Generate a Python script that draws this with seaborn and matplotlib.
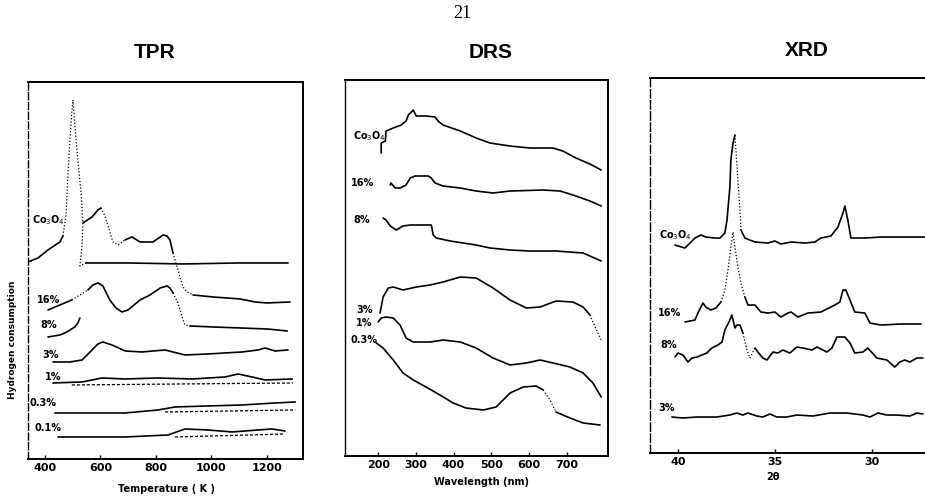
import matplotlib
matplotlib.use("Agg")
import matplotlib.pyplot as plt
import numpy as np
import seaborn as sns

sns.set_style("ticks")
plt.rcParams["font.family"] = ["DejaVu Sans"]
plt.rcParams["text.color"] = "black"
plt.rcParams["xtick.color"] = "black"
plt.rcParams["axes.labelcolor"] = "black"

# ---- TPR: temperature (K) vs hydrogen consumption (arb. units) ----
tpr_co_t = [339, 375, 411, 454, 465, 476, 483, 490, 497, 501, 508, 516, 523,
            530, 537, 534, 526, 548, 700, 900, 1100, 1277]
tpr_co_h = [197, 201, 209, 217, 223, 244, 284, 319, 347, 359, 334, 307, 287,
            267, 236, 214, 193, 196, 196, 195, 196, 196]
tpr_hump_t = [537, 570, 591, 602, 613, 627, 645, 664, 689, 714, 743, 790, 816,
              826, 840, 851, 862, 877, 887, 898, 913, 934, 1006, 1104, 1158,
              1201, 1284]
tpr_hump_h = [236, 242, 249, 251, 245, 234, 217, 214, 219, 222, 217, 217, 222,
              224, 223, 219, 206, 192, 182, 172, 167, 164, 162, 160, 157, 156,
              157]
tpr_16_t = [411, 454, 497, 555, 573, 591, 609, 634, 656, 678, 700, 743, 779,
            816, 840, 851, 862, 880, 895, 905, 923, 1006, 1104, 1201, 1274]
tpr_16_h = [149, 154, 159, 169, 174, 176, 173, 159, 151, 147, 149, 159, 164,
            171, 173, 171, 166, 156, 142, 134, 133, 132, 131, 130, 128]
tpr_8_t = [411, 454, 479, 508, 519, 526]
tpr_8_h = [122, 124, 127, 132, 136, 141]
tpr_3_t = [429, 490, 534, 570, 591, 609, 642, 689, 750, 833, 905, 988, 1111,
           1169, 1194, 1230, 1277]
tpr_3_h = [97, 97, 99, 109, 115, 117, 114, 108, 107, 109, 104, 105, 107, 109,
           111, 108, 109]
tpr_1_t = [429, 534, 606, 689, 808, 931, 1050, 1097, 1147, 1194, 1292]
tpr_1_h = [76, 77, 81, 80, 81, 80, 82, 85, 82, 79, 80]
tpr_1_base_t = [497, 887, 1295]
tpr_1_base_h = [74, 75, 76]
tpr_03_t = [436, 689, 808, 869, 988, 1111, 1230, 1303]
tpr_03_h = [46, 46, 49, 52, 53, 54, 56, 57]
tpr_03_base_t = [833, 1068, 1303]
tpr_03_base_h = [47, 48, 49]
tpr_01_t = [447, 689, 844, 905, 988, 1075, 1169, 1219, 1266]
tpr_01_h = [22, 22, 24, 30, 29, 27, 29, 30, 28]
tpr_01_base_t = [869, 1266]
tpr_01_base_h = [22, 25]
tpr_labels = ["Co$_3$O$_4$", "16%", "8%", "3%", "1%", "0.3%", "0.1%"]
tpr_label_t = [353, 371, 382, 389, 400, 346, 364]
tpr_label_h = [239, 159, 134, 104, 82, 56, 31]
tpr_ticks = [400, 600, 800, 1000, 1200]

# ---- DRS: wavelength (nm) vs reflectance (arb. units) ----
drs_co_w = [208, 208, 219, 221, 240, 261, 274, 280, 293, 301, 327, 351, 359,
            372, 418, 460, 497, 550, 603, 664, 690, 725, 762, 792]
drs_co_r = [303, 313, 315, 325, 328, 331, 335, 341, 346, 340, 340, 339, 335,
            331, 325, 318, 313, 310, 308, 308, 305, 298, 292, 286]
drs_16_w = [232, 234, 245, 258, 274, 285, 298, 333, 341, 351, 372, 418, 460,
            505, 550, 638, 683, 725, 762, 792]
drs_16_r = [271, 273, 268, 268, 271, 278, 280, 280, 278, 273, 270, 268, 265,
            263, 265, 266, 265, 260, 255, 250]
drs_8_w = [213, 221, 232, 248, 266, 285, 319, 341, 346, 354, 391, 460, 497,
           550, 603, 672, 744, 762, 792]
drs_8_r = [238, 236, 230, 226, 230, 231, 231, 231, 221, 218, 215, 211, 208,
           206, 205, 205, 203, 200, 195]
drs_3_w = [205, 213, 227, 240, 266, 301, 338, 372, 418, 460, 505, 550, 593,
           630, 672, 717, 744, 762, 776, 792]
drs_3_r = [143, 159, 168, 169, 166, 169, 171, 174, 179, 178, 168, 156, 148,
           149, 155, 154, 149, 141, 129, 116]
drs_1_w = [200, 208, 221, 240, 258, 274, 293, 338, 372, 418, 460, 505, 550,
           593, 630, 664, 709, 744, 770, 792]
drs_1_r = [134, 138, 139, 138, 131, 118, 114, 114, 116, 114, 108, 98, 91, 93,
           96, 93, 89, 83, 73, 59]
drs_03_w = [195, 213, 240, 266, 293, 327, 364, 399, 433, 479, 513, 550, 585,
            619, 638, 656, 672, 709, 744, 789]
drs_03_r = [113, 108, 96, 83, 76, 69, 61, 53, 48, 46, 49, 63, 69, 70, 66, 56,
            44, 38, 33, 31]
drs_labels = ["Co$_3$O$_4$", "16%", "8%", "3%", "1%", "0.3%"]
drs_label_w = [133, 128, 134, 142, 142, 126]
drs_label_r = [320, 273, 236, 146, 133, 116]
drs_ticks = [200, 300, 400, 500, 600, 700]

# ---- XRD: 2theta (deg) vs intensity (arb. units) ----
xrd_co_a = [40.15, 39.64, 39.48, 39.12, 38.81, 38.56, 38.09, 37.83, 37.58,
            37.47, 37.32, 37.27, 37.16, 37.06, 37.01, 36.91, 36.80, 36.75,
            36.55, 36.03, 35.36, 35.00, 34.69, 34.17, 33.45, 32.94, 32.63,
            32.11, 31.75, 31.49, 31.39, 31.24, 31.08, 30.36, 29.54, 28.66,
            27.78, 27.27]
xrd_co_i = [208, 205, 208, 215, 218, 216, 215, 215, 220, 233, 266, 293, 310,
            318, 303, 273, 243, 223, 215, 211, 210, 212, 209, 211, 210, 211,
            215, 217, 226, 240, 247, 233, 215, 215, 216, 216, 216, 216]
xrd_16_a = [39.64, 39.12, 38.97, 38.71, 38.56, 38.30, 38.04, 37.78, 37.58,
            37.42, 37.27, 37.16, 37.06, 36.91, 36.75, 36.55, 36.39, 36.03,
            35.72, 35.36, 35.00, 34.69, 34.33, 34.17, 33.81, 33.30, 32.63,
            31.91, 31.65, 31.49, 31.34, 31.13, 30.88, 30.36, 30.10, 29.54,
            28.50, 27.47]
xrd_16_i = [131, 133, 140, 150, 146, 143, 145, 151, 163, 183, 206, 221, 206,
            186, 170, 156, 148, 148, 141, 140, 141, 136, 140, 141, 136, 140,
            141, 148, 151, 163, 163, 153, 141, 140, 130, 128, 129, 129]
xrd_8_a = [40.15, 40.00, 39.74, 39.48, 39.28, 39.02, 38.51, 38.25, 37.94,
           37.73, 37.58, 37.32, 37.22, 37.06, 36.96, 36.80, 36.65, 36.44,
           36.29, 36.03, 35.88, 35.62, 35.41, 35.10, 34.85, 34.59, 34.23,
           33.87, 33.56, 33.09, 32.83, 32.32, 32.06, 31.80, 31.39, 31.13,
           30.88, 30.46, 30.21, 29.74, 29.23, 28.81, 28.56, 28.30, 28.04,
           27.68, 27.37]
xrd_8_i = [96, 100, 98, 91, 95, 96, 100, 105, 108, 111, 123, 133, 138, 125,
           128, 128, 120, 103, 95, 105, 101, 95, 93, 101, 100, 103, 100, 106,
           105, 103, 106, 101, 105, 116, 116, 110, 100, 101, 105, 95, 93, 86,
           91, 93, 91, 95, 95]
xrd_3_a = [40.31, 39.74, 39.02, 37.99, 37.32, 36.96, 36.65, 36.39, 35.93,
           35.62, 35.26, 34.90, 34.38, 33.87, 33.04, 32.16, 31.29, 30.46,
           30.10, 29.69, 29.23, 28.71, 28.04, 27.68, 27.37]
xrd_3_i = [36, 35, 36, 36, 38, 40, 38, 40, 37, 36, 39, 36, 36, 38, 37, 40, 40,
           38, 36, 40, 38, 38, 37, 40, 39]
xrd_labels = ["Co$_3$O$_4$", "16%", "8%", "3%"]
xrd_label_a = [41.0, 41.03, 40.88, 41.03]
xrd_label_i = [218, 140, 108, 45]
xrd_ticks = [40, 35, 30]

DOT = (0, (1, 1.6))
DASH = (0, (2.5, 1.5))


def trace(ax, x, y, dotted=(), ls="-", lw=1.2):
    """Draw one pen trace; index ranges in `dotted` are drawn as dots."""
    x = np.asarray(x, dtype=float)
    y = np.asarray(y, dtype=float)
    cuts = sorted(set([0, len(x) - 1] + [i for r in dotted for i in r]))
    for a, b in zip(cuts[:-1], cuts[1:]):
        is_dot = any(a >= r[0] and b <= r[1] for r in dotted)
        sns.lineplot(x=x[a:b + 1], y=y[a:b + 1], ax=ax, sort=False,
                     estimator=None, color="black",
                     lw=0.9 if is_dot else lw,
                     linestyle=DOT if is_dot else ls)


def frame(ax, xlim, ylim, ticks, left_ls="-"):
    ax.set_xlim(*xlim)
    ax.set_ylim(*ylim)
    ax.set_yticks([])
    ax.set_xticks(ticks)
    ax.set_xticklabels([str(t) for t in ticks], fontweight="bold")
    ax.tick_params(axis="x", direction="in", length=3, width=1,
                   labelsize=8, pad=3, colors="black")
    ax.set_xlabel("")
    ax.set_ylabel("")
    for side, sp in ax.spines.items():
        sp.set_visible(True)
        sp.set_linewidth(1.4)
        sp.set_color("black")
    ax.spines["left"].set_linestyle(left_ls)
    ax.spines["left"].set_linewidth(1.0)


def put_labels(ax, xs, ys, texts):
    for x, y, t in zip(xs, ys, texts):
        ax.text(x, y, t, fontsize=7, fontweight="bold", ha="left",
                va="center")


fig = plt.figure(figsize=(9.25, 4.97), dpi=100)
ax_tpr = fig.add_axes([0.0303, 0.0765, 0.2973, 0.7586])
ax_drs = fig.add_axes([0.373, 0.0825, 0.2843, 0.7565])
ax_xrd = fig.add_axes([0.7027, 0.0885, 0.308, 0.7545])

# TPR
trace(ax_tpr, tpr_co_t, tpr_co_h, dotted=[(4, 17)])
trace(ax_tpr, tpr_hump_t, tpr_hump_h, dotted=[(3, 8), (16, 21)])
trace(ax_tpr, tpr_16_t, tpr_16_h, dotted=[(2, 3), (16, 20)])
trace(ax_tpr, tpr_8_t, tpr_8_h)
trace(ax_tpr, tpr_3_t, tpr_3_h)
trace(ax_tpr, tpr_1_t, tpr_1_h)
trace(ax_tpr, tpr_1_base_t, tpr_1_base_h, ls=DASH, lw=0.9)
trace(ax_tpr, tpr_03_t, tpr_03_h)
trace(ax_tpr, tpr_03_base_t, tpr_03_base_h, ls=DASH, lw=0.9)
trace(ax_tpr, tpr_01_t, tpr_01_h)
trace(ax_tpr, tpr_01_base_t, tpr_01_base_h, ls=DASH, lw=0.9)
put_labels(ax_tpr, tpr_label_t, tpr_label_h, tpr_labels)
frame(ax_tpr, (339, 1331), (0, 377), tpr_ticks, left_ls=(0, (5, 2)))

# DRS
trace(ax_drs, drs_co_w, drs_co_r)
trace(ax_drs, drs_16_w, drs_16_r)
trace(ax_drs, drs_8_w, drs_8_r)
trace(ax_drs, drs_3_w, drs_3_r, dotted=[(17, 19)])
trace(ax_drs, drs_1_w, drs_1_r)
trace(ax_drs, drs_03_w, drs_03_r, dotted=[(14, 16)])
put_labels(ax_drs, drs_label_w, drs_label_r, drs_labels)
frame(ax_drs, (112, 810), (0, 376), drs_ticks)

# XRD (2theta decreasing to the right)
trace(ax_xrd, xrd_co_a, xrd_co_i, dotted=[(13, 17)])
trace(ax_xrd, xrd_16_a, xrd_16_i, dotted=[(7, 15)])
trace(ax_xrd, xrd_8_a, xrd_8_i, dotted=[(16, 19)])
trace(ax_xrd, xrd_3_a, xrd_3_i)
put_labels(ax_xrd, xrd_label_a, xrd_label_i, xrd_labels)
frame(ax_xrd, (41.44, 26.75), (0, 375), xrd_ticks, left_ls=(0, (6, 2)))

title_kw = dict(fontsize=15, fontweight="bold", color="black",
                family=["Liberation Sans", "DejaVu Sans"],
                ha="center", va="center")
fig.text(0.1676, 0.895, "TPR", **title_kw)
fig.text(0.530, 0.895, "DRS", **title_kw)
fig.text(0.872, 0.899, "XRD", **title_kw)
fig.text(0.500, 0.972, "21", fontsize=13, ha="center", va="center",
         color="black", family=["Liberation Serif", "DejaVu Serif"])

small = dict(fontsize=7, fontweight="bold", ha="center", va="center",
             color="black")
fig.text(0.180, 0.016, "Temperature ( K )", **small)
fig.text(0.521, 0.030, "Wavelength (nm)", **small)
fig.text(0.836, 0.040, "2θ", **small)
fig.text(0.014, 0.316, "Hydrogen consumption", rotation=90,
         fontsize=6.5, fontweight="bold", ha="center", va="center",
         color="black")

fig.savefig("out.png", dpi=100, facecolor="white")
